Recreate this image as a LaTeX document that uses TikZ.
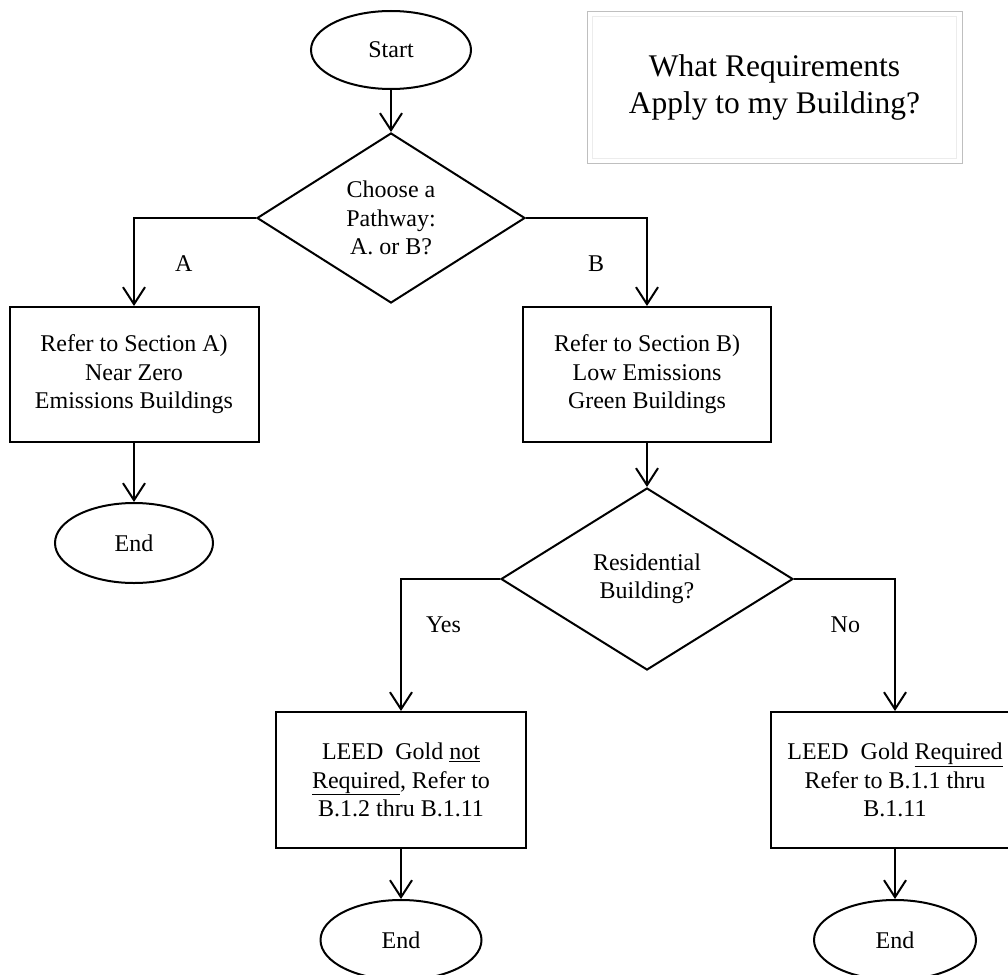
\documentclass[tikz,border=0pt]{standalone}
\usepackage{fontspec}
\setmainfont{Liberation Serif}
\usetikzlibrary{shapes.geometric,arrows.meta}

\tikzset{
  term/.style={ellipse, draw, fill=white, inner sep=0pt, minimum width=160pt, minimum height=78pt},
  decide/.style={diamond, draw, fill=white, inner sep=0pt, shape aspect=1.6, align=center},
  proc/.style={rectangle, draw, fill=white, minimum width=249pt, minimum height=135pt, align=center},
  lbl/.style={inner sep=2pt}
}

\begin{document}
\begin{tikzpicture}[x=1pt, y=-1pt, line width=2pt, >={Straight Barb[length=17pt,width=22pt]},
  font=\fontsize{24}{28.5}\selectfont]
\useasboundingbox (0,0) rectangle (1008,974);

\node[draw=gray!50, line width=1pt, minimum width=375pt, minimum height=151pt, align=center,
  font=\fontsize{31.5}{37.8}\selectfont] (t) at (774.5,87.5) {What Requirements\\Apply to my Building?};
\draw[gray!15, line width=1pt] ([shift={(6pt,5pt)}]t.south west) rectangle ([shift={(-6pt,-5pt)}]t.north east);

\node[term] (s) at (391,50) {Start};
\node[decide, minimum width=268pt, minimum height=170pt] (d1) at (391,218) {Choose a\\Pathway:\\A. or B?};
\node[proc] (a) at (134,374.5) {Refer to Section A)\\Near Zero\\Emissions Buildings};
\node[proc, minimum width=248pt] (b) at (647,374.5) {Refer to Section B)\\Low Emissions\\Green Buildings};
\node[term, minimum width=158pt, minimum height=80pt] (e1) at (134,543) {End};
\node[decide, minimum width=292pt, minimum height=182pt] (d2) at (647,579) {Residential\\Building?};
\node[proc, minimum width=250pt, minimum height=136pt] (c1) at (401,780) {LEED~ Gold \underline{not}\\\underline{Required}, Refer to\\B.1.2 thru B.1.11};
\node[proc, minimum width=248pt, minimum height=136pt] (c2) at (895,780) {LEED~ Gold \underline{Required}\\Refer to B.1.1 thru\\B.1.11};
\node[term, minimum width=161pt, minimum height=80pt] (e2) at (401,940) {End};
\node[term, minimum width=162pt, minimum height=80pt] (e3) at (895,940) {End};

\draw[->] (s) to (d1);
\draw[->] (d1.west) -| node[lbl, pos=0.76, right=38pt]{A} (a);
\draw[->] (d1.east) -| node[lbl, pos=0.76, left=40pt]{B} (b);
\draw[->] (a) to (e1);
\draw[->] (b) to (d2);
\draw[->] (d2.west) -| node[lbl, pos=0.675, right=22pt]{Yes} (c1);
\draw[->] (d2.east) -| node[lbl, pos=0.675, left=32pt]{No} (c2);
\draw[->] (c1) to (e2);
\draw[->] (c2) to (e3);
\end{tikzpicture}
\end{document}
